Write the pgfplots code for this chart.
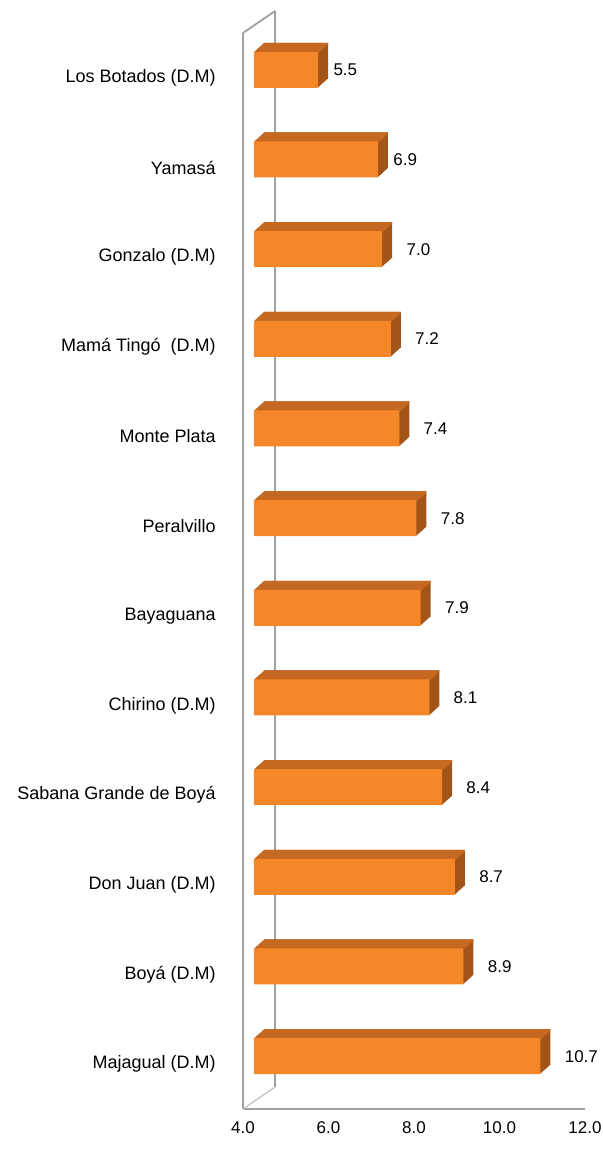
\documentclass[border=0pt]{standalone}
\usepackage{pgfplots}
\pgfplotsset{compat=1.18}
\usepackage{pgfplotstable}
\usepackage{fontspec}
\setmainfont{Liberation Sans}

\definecolor{barfront}{RGB}{246,135,40}
\definecolor{bartop}{RGB}{196,104,34}
\definecolor{barside}{RGB}{163,84,24}
\definecolor{wall}{RGB}{160,160,160}

% pos: category slot (0 = bottom), val: value, dx: label offset (pt)
\pgfplotstableread{
pos val dx
0 10.7 17.5
1 8.9 17.5
2 8.7 17.5
3 8.4 17.5
4 8.1 17.5
5 7.9 17.5
6 7.8 17.5
7 7.4 17.5
8 7.2 17.5
9 7.0 17.5
10 6.9 13
11 5.5 13
}\munis

\pgfplotsset{
  bar3d/.style={xbar, bar shift=0pt, bar width=18pt, draw=none},
}

\begin{document}
\begin{tikzpicture}
\begin{axis}[
  at={(0,0)}, anchor=south west,
  scale only axis, width=171pt, height=538pt,
  xmin=0, xmax=8, ymin=-0.5, ymax=11.5,
  axis line style={draw=none},
  tick style={draw=none},
  xtick={0,2,4,6,8},
  xticklabels={4.0,6.0,8.0,10.0,12.0},
  ytick={0,...,11},
  yticklabels={Majagual (D.M), Boyá (D.M), Don Juan (D.M), Sabana Grande de Boyá, Chirino (D.M), Bayaguana, Peralvillo, Monte Plata, Mamá Tingó\ \ (D.M), Gonzalo (D.M), Yamasá, Los Botados (D.M)},
  xticklabel style={font=\fontsize{8.5}{10}\selectfont, inner sep=0pt, yshift=-6pt},
  yticklabel style={font=\fontsize{9}{11}\selectfont, inner sep=0pt, xshift=-13.5pt},
  /pgf/number format/assume math mode=true,
  clip=false, set layers,
]

% wall and floor
\begin{pgfonlayer}{axis background}
\draw[wall, line width=0.9pt] (rel axis cs:0,0) -- (rel axis cs:0,1);
\draw[wall, line width=0.9pt] (rel axis cs:0,0) -- (rel axis cs:1,0);
\draw[wall, line width=0.9pt] ([shift={(16pt,11pt)}]rel axis cs:0,0) -- ([shift={(16pt,11pt)}]rel axis cs:0,1);
\draw[wall, line width=0.9pt] (rel axis cs:0,1) -- ([shift={(16pt,11pt)}]rel axis cs:0,1);
\draw[wall!60, line width=0.7pt] (rel axis cs:0,0) -- ([shift={(16pt,11pt)}]rel axis cs:0,0);
\end{pgfonlayer}

% depth of the bars
\pgfplotsinvokeforeach{10,9,...,1}{
  \addplot[bar3d, fill=barside, shift={({5.5pt+#1*0.5pt},{4pt+#1*0.45pt})}]
    table[x expr=\thisrow{val}-4, y=pos]{\munis};
}
\pgfplotsinvokeforeach{10,9,...,1}{
  \addplot[bar3d, bar width=1pt, fill=bartop, shift={({5.5pt+#1*0.5pt},{12.5pt+#1*0.45pt})}]
    table[x expr=\thisrow{val}-4, y=pos]{\munis};
}
% front faces
\addplot[bar3d, fill=barfront, shift={(5.5pt,4pt)}]
  table[x expr=\thisrow{val}-4, y=pos]{\munis};

% value labels
\addplot[bar3d, fill=none,
  point meta=explicit,
  visualization depends on={\thisrow{dx} \as \dx},
  nodes near coords={\pgfmathprintnumber[fixed,fixed zerofill,precision=1]{\pgfplotspointmeta}},
  every node near coord/.append style={anchor=west, inner sep=0pt,
    font=\fontsize{8.5}{10}\selectfont, xshift=\dx pt, yshift=4pt}]
  table[x expr=\thisrow{val}-4, y=pos, meta=val]{\munis};
\end{axis}
\path (-121.5pt,-22pt) rectangle (179.5pt,554.5pt);
\end{tikzpicture}
\end{document}
